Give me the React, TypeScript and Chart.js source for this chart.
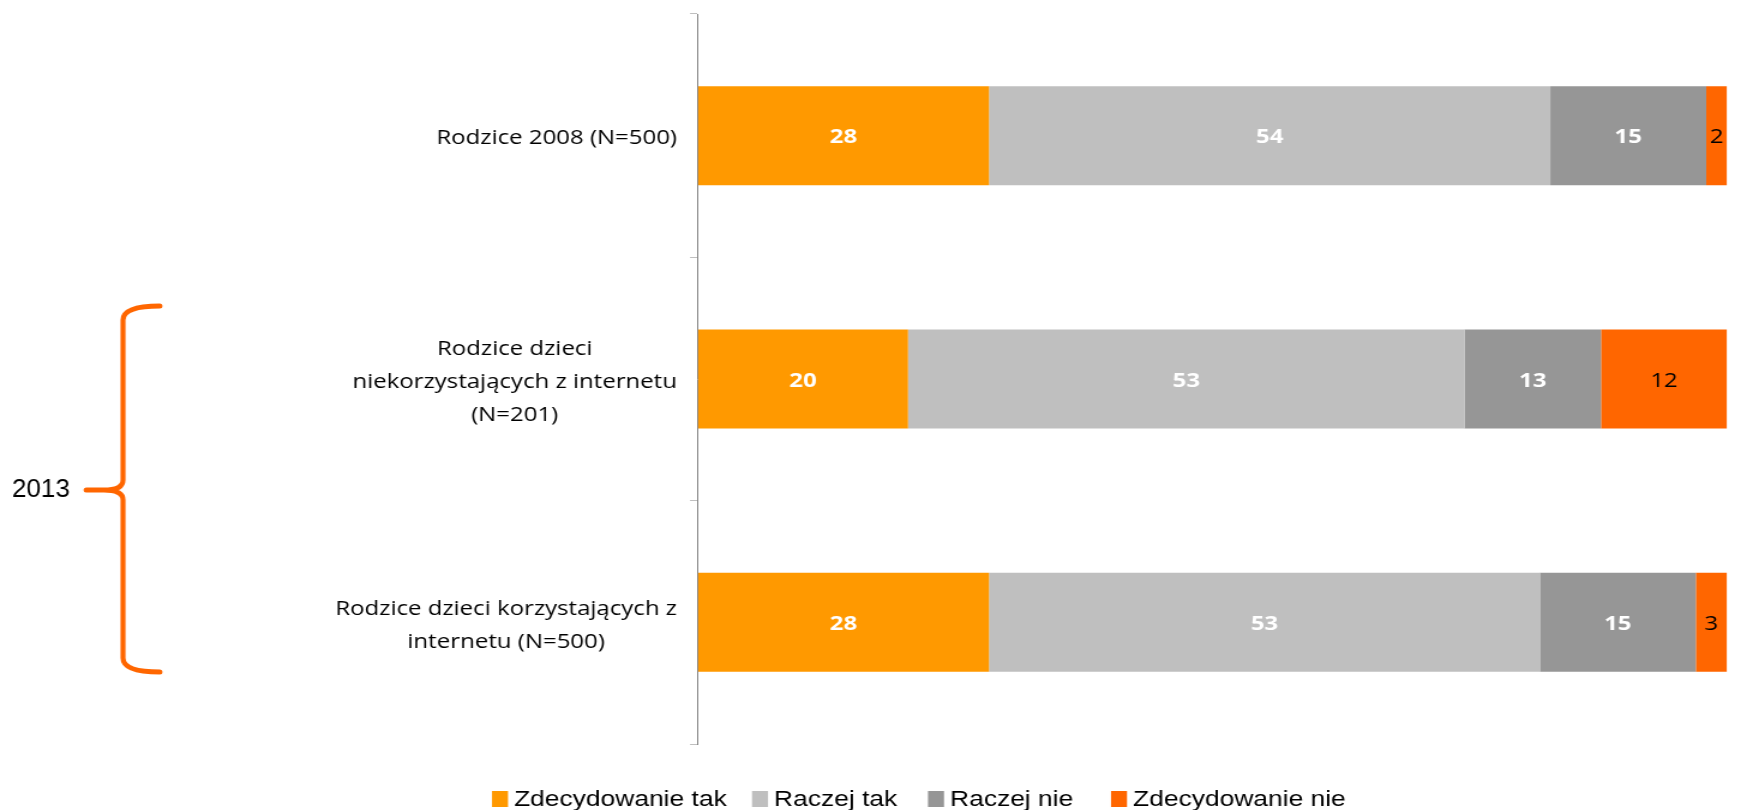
import React, { useEffect, useRef } from 'react';
import { Chart, registerables } from 'chart.js';

Chart.register(...registerables);

// ---------- data ----------
const categories: string[][] = [
  ['Rodzice 2008 (N=500)'],
  ['Rodzice dzieci', 'niekorzystających z internetu', '(N=201)'],
  ['Rodzice dzieci korzystających z', 'internetu (N=500)'],
];
const seriesNames = ['Zdecydowanie tak', 'Raczej tak', 'Raczej nie', 'Zdecydowanie nie'];
const zdecydowanieTak = [28, 20, 28];
const raczejTak = [54, 53, 53];
const raczejNie = [15, 13, 15];
const zdecydowanieNie = [2, 12, 3];
const groupLabel = '2013';

const seriesValues = [zdecydowanieTak, raczejTak, raczejNie, zdecydowanieNie];
const seriesColors = ['#FF9900', '#BFBFBF', '#969696', '#FF6600'];
const labelColors = ['#FFFFFF', '#FFFFFF', '#FFFFFF', '#000000'];
const labelBold = [true, true, true, false];

// ---------- layout ----------
const FULL_W = 1747;
const H = 810;
const CW = 1456; // internal canvas width (stretched horizontally by CSS)
const S = FULL_W / CW;
const AXIS_X = 698;
const PLOT_RIGHT = 1727;
const PLOT_TOP = 14;
const PLOT_BOTTOM = 744;

// 100% stacked: each bar normalised to its own total
const totals = categories.map((_, i) => seriesValues.reduce((a, s) => a + s[i], 0));

const catLabelPlugin = {
  id: 'catLabels',
  afterDraw(chart: any) {
    const ctx = chart.ctx;
    const yScale = chart.scales.y;
    ctx.save();
    ctx.font = '20px "Open Sans"';
    ctx.fillStyle = '#000000';
    ctx.textAlign = 'center';
    ctx.textBaseline = 'middle';
    const lineH = 33;
    const right = 677 / S;
    (chart.data.labels as string[][]).forEach((lines, i) => {
      const cy = yScale.getPixelForValue(i) + 3;
      const blockW = Math.max(...lines.map((l) => ctx.measureText(l).width));
      const cx = right - blockW / 2;
      lines.forEach((l, j) => {
        ctx.fillText(l, cx, cy + (j - (lines.length - 1) / 2) * lineH);
      });
    });
    ctx.restore();
  },
};

const valueLabelPlugin = {
  id: 'valueLabels',
  afterDatasetsDraw(chart: any) {
    const ctx = chart.ctx;
    ctx.save();
    ctx.textAlign = 'center';
    ctx.textBaseline = 'middle';
    chart.data.datasets.forEach((ds: any, di: number) => {
      const meta = chart.getDatasetMeta(di);
      ctx.font = (labelBold[di] ? 'bold ' : '') + '20px "Open Sans"';
      ctx.fillStyle = labelColors[di];
      meta.data.forEach((bar: any, i: number) => {
        const p = bar.getProps(['x', 'base', 'y'], true);
        ctx.fillText(String(seriesValues[di][i]), (p.x + p.base) / 2, p.y + 2);
      });
    });
    ctx.restore();
  },
};

const legendPlugin = {
  id: 'customLegend',
  afterDraw(chart: any) {
    const ctx = chart.ctx;
    const starts = [492, 752, 928, 1111];
    ctx.save();
    ctx.font = '22px "Liberation Sans", Arial, sans-serif';
    ctx.textAlign = 'left';
    ctx.textBaseline = 'middle';
    seriesNames.forEach((name, i) => {
      const x = starts[i] / S;
      ctx.fillStyle = seriesColors[i];
      ctx.fillRect(x, 791, 16 / S, 16);
      ctx.fillStyle = '#000000';
      ctx.fillText(name, x + 22 / S, 800);
    });
    ctx.restore();
  },
};

const bracePlugin = {
  id: 'brace',
  afterDraw(chart: any) {
    const ctx = chart.ctx;
    ctx.save();
    ctx.scale(1 / S, 1); // draw in un-stretched page pixels
    ctx.strokeStyle = '#FF6600';
    ctx.lineWidth = 5;
    ctx.lineCap = 'round';
    ctx.lineJoin = 'round';
    ctx.beginPath();
    ctx.moveTo(160, 306);
    ctx.quadraticCurveTo(123, 306, 123, 320);
    ctx.lineTo(123, 480);
    ctx.quadraticCurveTo(123, 490, 104, 490);
    ctx.lineTo(86, 490);
    ctx.moveTo(104, 490);
    ctx.quadraticCurveTo(123, 490, 123, 500);
    ctx.lineTo(123, 658);
    ctx.quadraticCurveTo(123, 672, 160, 672);
    ctx.stroke();
    ctx.fillStyle = '#000000';
    ctx.font = '26px "Liberation Sans", Arial, sans-serif';
    ctx.textAlign = 'left';
    ctx.textBaseline = 'alphabetic';
    ctx.fillText(groupLabel, 12, 497);
    ctx.restore();
  },
};

export default function App() {
  const ref = useRef<HTMLCanvasElement | null>(null);

  useEffect(() => {
    document.body.style.margin = '0';
    document.body.style.overflow = 'hidden';
    const canvas = ref.current;
    if (!canvas) return;
    const barFrac = 99 / ((PLOT_BOTTOM - PLOT_TOP) / categories.length);
    const chart = new Chart(canvas, {
      type: 'bar',
      data: {
        labels: categories as any,
        datasets: seriesNames.map((name, di) => ({
          label: name,
          data: seriesValues[di].map((v, i) => (v / totals[i]) * 100),
          backgroundColor: seriesColors[di],
          borderWidth: 0,
          barPercentage: barFrac,
          categoryPercentage: 1,
        })),
      },
      options: {
        responsive: false,
        animation: false,
        events: [],
        indexAxis: 'y',
        layout: {
          padding: {
            left: 0,
            right: CW - PLOT_RIGHT / S,
            top: PLOT_TOP,
            bottom: H - PLOT_BOTTOM,
          },
        },
        scales: {
          x: { stacked: true, min: 0, max: 100, display: false },
          y: {
            stacked: true,
            offset: true,
            grid: {
              display: true,
              drawOnChartArea: false,
              drawTicks: true,
              tickLength: 8 / S,
              color: '#BFBFBF',
              offset: true,
              lineWidth: 1,
            },
            border: { display: true, color: '#868686', width: 1 },
            ticks: { display: false },
            afterFit: (scale: any) => {
              scale.width = AXIS_X / S;
            },
          },
        },
        plugins: {
          legend: { display: false },
          tooltip: { enabled: false },
        },
      },
      plugins: [valueLabelPlugin, catLabelPlugin, legendPlugin, bracePlugin],
    });
    return () => chart.destroy();
  }, []);

  return (
    <div style={{ position: 'fixed', left: 0, top: 0, width: FULL_W, height: H, background: '#fff' }}>
      <canvas
        ref={ref}
        width={CW}
        height={H}
        style={{ width: FULL_W + 'px', height: H + 'px', display: 'block' }}
      />
    </div>
  );
}
